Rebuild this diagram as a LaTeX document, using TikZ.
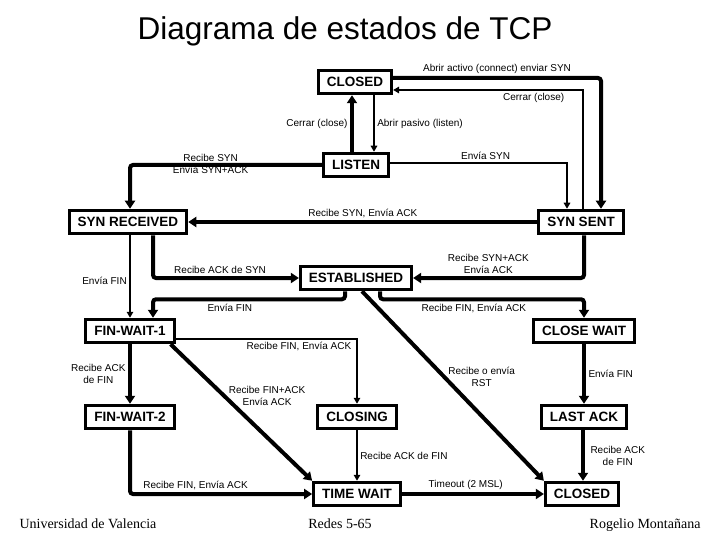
\documentclass[tikz,border=0pt]{standalone}
\usepackage{fontspec}
\setmainfont{Liberation Sans}
\newfontfamily\footfont{Liberation Serif}
\usepackage{tikz}
\usetikzlibrary{arrows.meta, positioning, calc}
\tikzset{
  statebox/.style={draw=black, line width=3pt, fill=white,
    inner xsep=8.5pt, inner ysep=0pt, minimum height=23.5pt,
    font=\fontsize{13.5}{15}\selectfont\bfseries},
  boldarrow/.style={-{Triangle[length=8pt,width=10pt]}, line width=4pt,
    rounded corners=3pt},
  lightarrow/.style={-{Triangle[length=6pt,width=6.5pt]}, line width=1.5pt},
  translbl/.style={font=\fontsize{10}{12}\selectfont, align=center,
    inner sep=2.5pt, text=black},
  titletext/.style={font=\fontsize{31.5}{36}\selectfont, anchor=base},
  foottext/.style={font=\footfont\fontsize{14}{16}\selectfont, anchor=base}
}

\begin{document}
\begin{tikzpicture}[x=1pt, y=-1pt]

  \useasboundingbox (0,0) rectangle (720,540);

  \node[titletext] (title) at (345,40) {Diagrama de estados de TCP};

  % states
  \node[statebox] (closed)      at (355,82)  {CLOSED};
  \node[statebox] (listen)      at (356,165) {LISTEN};
  \node[statebox] (synrec)      at (128,222) {SYN RECEIVED};
  \node[statebox] (synsent)     at (581,222) {SYN SENT};
  \node[statebox] (established) at (356,278) {ESTABLISHED};
  \node[statebox] (finwait1)    at (130,331) {FIN-WAIT-1};
  \node[statebox] (closewait)   at (584,331) {CLOSE WAIT};
  \node[statebox] (finwait2)    at (130,417) {FIN-WAIT-2};
  \node[statebox] (closing)     at (357,417) {CLOSING};
  \node[statebox] (lastack)     at (584,417) {LAST ACK};
  \node[statebox] (timewait)    at (357,494) {TIME WAIT};
  \node[statebox] (closedend)   at (582,494) {CLOSED};

  % opening
  \draw[boldarrow] ([yshift=4pt]closed.east) -| node[translbl, above, pos=0.25]
    {Abrir activo (connect) enviar SYN} ([xshift=20pt]synsent.north);
  \draw[lightarrow] ([xshift=2pt]synsent.north) |- node[translbl, below, pos=0.63]
    {Cerrar (close)} ([yshift=-8pt]closed.east);
  \draw[boldarrow] ([xshift=-4pt]listen.north) -- node[translbl, left]
    {Cerrar (close)} ([xshift=-4pt]listen.north |- closed.south);
  \draw[lightarrow] ([xshift=19pt]closed.south) -- node[translbl, right]
    {Abrir pasivo (listen)} ([xshift=19pt]closed.south |- listen.north);
  \draw[boldarrow] (listen.west) -| node[translbl, pos=0.29, yshift=1pt]
    {Recibe SYN\\Envía SYN+ACK} ([xshift=2pt]synrec.north);
  \draw[lightarrow] ([yshift=2pt]listen.east) -| node[translbl, above, pos=0.27]
    {Envía SYN} ([xshift=-14pt]synsent.north);
  \draw[boldarrow] (synsent.west) -- node[translbl, above]
    {Recibe SYN, Envía ACK} (synrec.east);
  \draw[boldarrow] ([xshift=25pt]synrec.south) |- node[translbl, above, pos=0.73]
    {Recibe ACK de SYN} (established.west);
  \draw[boldarrow] ([xshift=3pt]synsent.south) |- node[translbl, above, pos=0.78]
    {Recibe SYN+ACK\\Envía ACK} (established.east);

  % closing
  \draw[lightarrow] ([xshift=2pt]synrec.south) -- node[translbl, left, pos=0.55]
    {Envía FIN} ([xshift=2pt]synrec.south |- finwait1.north);
  \draw[boldarrow] ([xshift=-11pt]established.south) -- ++(0,8)
    -| node[translbl, below, pos=0.3] {Envía FIN} ([xshift=23pt]finwait1.north);
  \draw[boldarrow] ([xshift=24pt]established.south) -- ++(0,8)
    -| node[translbl, below, pos=0.23] {Recibe FIN, Envía ACK} (closewait.north);
  \draw[boldarrow] ([xshift=6pt]established.south) -- node[translbl, right, pos=0.45]
    {Recibe o envía\\RST} (closedend.north west);
  \draw[lightarrow] ([yshift=-8pt]finwait1.east) -| node[translbl, below, pos=0.34]
    {Recibe FIN, Envía ACK} (closing.north);
  \draw[boldarrow] (finwait1.south) -- node[translbl, left]
    {Recibe ACK\\de FIN} (finwait2.north);
  \draw[boldarrow] ([xshift=-5pt]finwait1.south east) -- node[translbl, right, pos=0.38]
    {Recibe FIN+ACK\\Envía ACK} (timewait.north west);
  \draw[boldarrow] (finwait2.south) |- node[translbl, above, pos=0.68]
    {Recibe FIN, Envía ACK} (timewait.west);
  \draw[lightarrow] (closing.south) -- node[translbl, right]
    {Recibe ACK de FIN} (timewait.north);
  \draw[boldarrow] (timewait.east) -- node[translbl, above, pos=0.45]
    {Timeout (2 MSL)} (closedend.west);
  \draw[boldarrow] (closewait.south) -- node[translbl, right]
    {Envía FIN} (lastack.north);
  \draw[boldarrow] ([xshift=-1pt]lastack.south) -- node[translbl, right, xshift=3pt]
    {Recibe ACK\\de FIN} ([xshift=-1pt]lastack.south |- closedend.north);

  % footer
  \node[foottext, anchor=base west] (univ) at (16,528) {Universidad de Valencia};
  \node[foottext] (redes) at (340,528) {Redes 5-65};
  \node[foottext, anchor=base east] (autor) at (704,528) {Rogelio Montañana};

\end{tikzpicture}
\end{document}
